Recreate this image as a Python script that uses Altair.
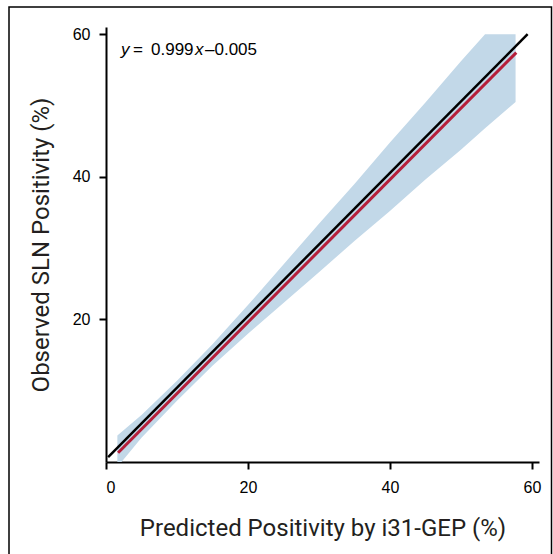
import altair as alt
import pandas as pd

# identity (reference) line
ident_x = [0.3, 59.4]
ident_y = [0.7, 60.0]

# fitted calibration line
fit_x = [1.7, 57.8]
fit_y = [1.3, 57.4]

# confidence band
band_x = [1.6, 5, 10, 15, 20, 25, 30, 35, 40, 45, 50, 53.4, 57.7]
band_lo = [-0.7, 3.4, 8.6, 13.5, 18.0, 22.3, 26.6, 31.0, 35.2, 39.6, 43.8, 46.8, 50.5]
band_hi = [3.7, 6.6, 11.4, 16.5, 22.0, 27.7, 33.4, 39.0, 44.8, 50.4, 56.2, 60.0, 60.0]

x_ticks = [0, 20, 40, 60]
y_ticks = [20, 40, 60]

eq_parts = ["y", "=", "0.999", "x", "\u20130.005"]
eq_italic = [True, False, False, True, False]
eq_px = [15, 27, 45, 89, 99]

ident = pd.DataFrame({"x": ident_x, "y": ident_y})
fit = pd.DataFrame({"x": fit_x, "y": fit_y})
band = pd.DataFrame({"x": band_x, "lo": band_lo, "hi": band_hi})

xs = alt.Scale(domain=[0, 61], nice=False, zero=False)
ys = alt.Scale(domain=[0, 61], nice=False, zero=False)

FONT = "Liberation Sans"
TFONT = "Roboto"

xaxis = alt.Axis(values=x_ticks, title="Predicted Positivity by i31-GEP (%)",
                 titleFont=TFONT, titleFontSize=24, titleFontWeight="normal",
                 titleY=73, titleBaseline="alphabetic", titleColor="#231f20",
                 labelFont=FONT, labelFontSize=16, labelColor="black", labelPadding=10,
                 grid=False)
yaxis = alt.Axis(values=y_ticks, title="Observed SLN Positivity (%)",
                 titleFont=TFONT, titleFontSize=24, titleFontWeight="normal",
                 titleX=-58, titleY=217.5, titleAngle=270, titleAlign="center",
                 titleBaseline="alphabetic", titleColor="#231f20",
                 labelFont=FONT, labelFontSize=16, labelColor="black", labelPadding=9,
                 grid=False)

area = alt.Chart(band).mark_area(color="#c2d8e8", opacity=1, clip=True).encode(
    x=alt.X("x:Q", scale=xs, axis=xaxis),
    y=alt.Y("lo:Q", scale=ys, axis=yaxis),
    y2="hi:Q",
)

red = alt.Chart(fit).mark_line(color="#b51f3a", strokeWidth=3).encode(
    x=alt.X("x:Q", scale=xs), y=alt.Y("y:Q", scale=ys)
)
black = alt.Chart(ident).mark_line(color="black", strokeWidth=2.5).encode(
    x=alt.X("x:Q", scale=xs), y=alt.Y("y:Q", scale=ys)
)

texts = []
for t, it, px in zip(eq_parts, eq_italic, eq_px):
    texts.append(
        alt.Chart(pd.DataFrame({"t": [t]})).mark_text(
            font=FONT, fontSize=17, fontStyle="italic" if it else "normal",
            align="left", baseline="alphabetic", color="black"
        ).encode(x=alt.value(px), y=alt.value(28), text="t:N")
    )

frame = alt.Chart(pd.DataFrame({"a": [0]})).mark_rect(
    filled=False, stroke="black", strokeWidth=1.5, clip=False
).encode(x=alt.value(-97), x2=alt.value(445.5), y=alt.value(-20), y2=alt.value(545))

chart = alt.layer(area, red, black, *texts, frame).properties(
    width=433, height=435,
    background="white",
    autosize=alt.AutoSizeParams(type="none"),
    padding={"left": 106, "top": 27, "right": 14, "bottom": 92},
).configure_view(stroke=None).configure_axis(
    grid=False, domainColor="black", domainWidth=2, tickColor="black",
    tickWidth=2, tickSize=7
)

chart.save("out.html", embed_options={"renderer": "svg", "actions": False})
